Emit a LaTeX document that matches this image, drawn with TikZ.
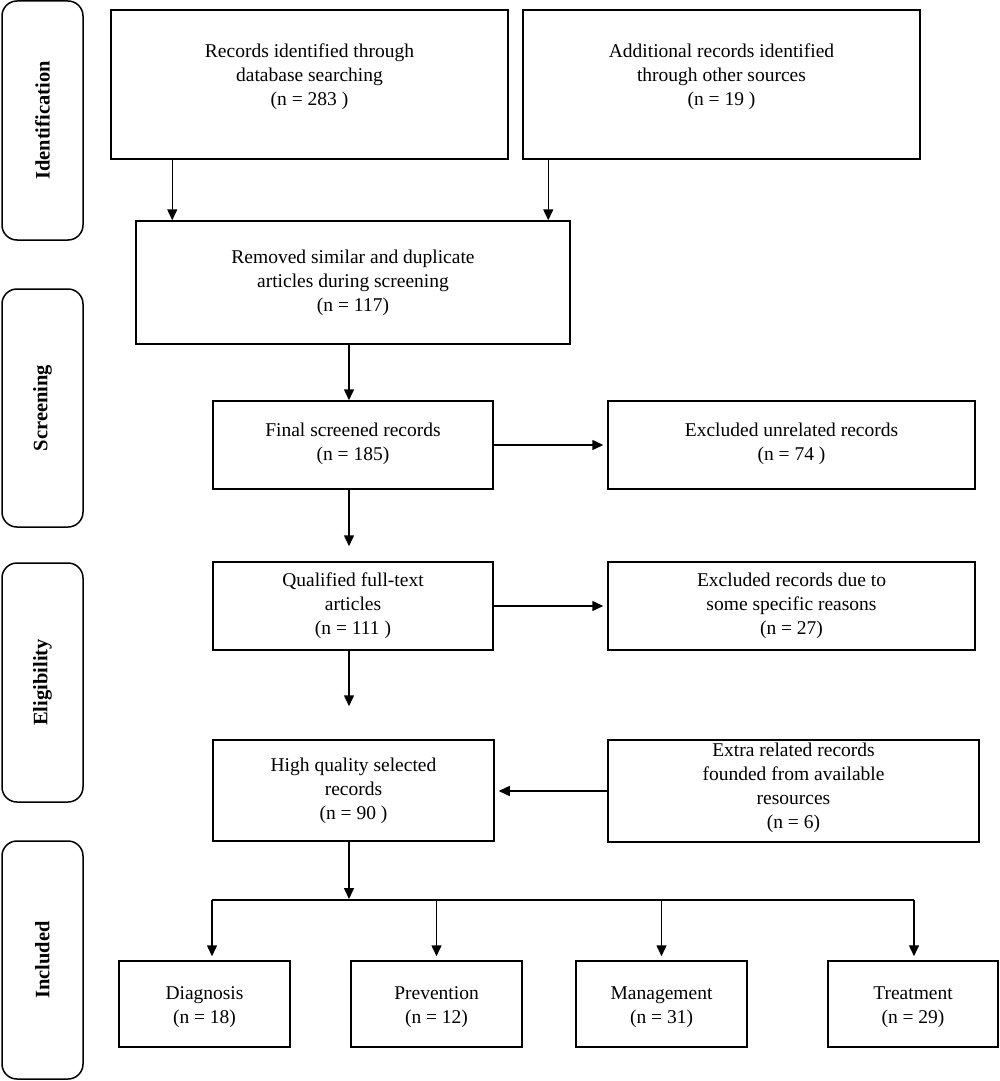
\documentclass[tikz,border=0pt]{standalone}
\usepackage{fontspec}
\setmainfont{Liberation Serif}
\usetikzlibrary{arrows.meta,calc}
\tikzset{
  box/.style={draw=black, line width=1.5pt, rectangle, inner sep=0pt, align=center,
    font=\fontsize{19.5}{24}\selectfont, text=black},
  side/.style={draw=black, line width=1.5pt, rectangle, rounded corners=15pt, rotate=90,
    inner sep=0pt, font=\fontsize{20.5}{24}\selectfont\bfseries, minimum height=81pt},
  arr/.style={line width=1.5pt, -{Triangle[length=11pt,width=10pt]}},
  ln/.style={line width=1.5pt}
}
\begin{document}
\begin{tikzpicture}[x=1pt,y=-1pt]
\useasboundingbox (0,0) rectangle (1000,1081);
% side labels
\node[side, minimum width=239pt] (sid) at (42.5,120.5) {Identification};
\node[side, minimum width=238pt] (sscr) at (42.5,408) {Screening};
\node[side, minimum width=239pt] (selg) at (42.5,682.5) {Eligibility};
\node[side, minimum width=238pt] (sinc) at (42.5,960) {Included};
% main boxes
\node[box, minimum width=397pt, minimum height=149pt] (b1) at (309.5,84.5)
  {Records identified through\\database searching\\(n = 283 )\\[-4pt]\mbox{}};
\node[box, minimum width=397pt, minimum height=149pt] (b2) at (721.5,84.5)
  {Additional records identified\\through other sources\\(n = 19 )\\[-4pt]\mbox{}};
\node[box, minimum width=434pt, minimum height=123pt] (b3) at (353,282.5)
  {Removed similar and duplicate\\articles during screening\\(n = 117)};
\node[box, minimum width=280pt, minimum height=88pt] (b4) at (353,445)
  {\mbox{}\\[-12pt]Final screened records\\(n = 185)};
\node[box, minimum width=367pt, minimum height=88pt] (b5) at (791.5,445)
  {\mbox{}\\[-12pt]Excluded unrelated records\\(n = 74 )};
\node[box, minimum width=280pt, minimum height=88pt] (b6) at (353,606)
  {Qualified full-text\\articles\\(n = 111 )};
\node[box, minimum width=367pt, minimum height=88pt] (b7) at (791.5,606)
  {\mbox{}\\[-10pt]Excluded records due to\\some specific reasons\\(n = 27)};
\node[box, minimum width=281pt, minimum height=101pt] (b8) at (353.5,790.5)
  {High quality selected\\records\\(n = 90 )};
\node[box, minimum width=371pt, minimum height=102pt] (b9) at (793.5,791)
  {\mbox{}\\[-16pt]Extra related records\\founded from available\\resources\\(n = 6)};
% bottom boxes
\node[box, minimum width=171pt, minimum height=86pt] (d1) at (204.5,1004)
  {\mbox{}\\[-4pt]Diagnosis\\(n = 18)};
\node[box, minimum width=171pt, minimum height=86pt] (d2) at (436.5,1004)
  {\mbox{}\\[-4pt]Prevention\\(n = 12)};
\node[box, minimum width=171pt, minimum height=86pt] (d3) at (661.5,1004)
  {\mbox{}\\[-4pt]Management\\(n = 31)};
\node[box, minimum width=170pt, minimum height=86pt] (d4) at (913,1004)
  {\mbox{}\\[-4pt]Treatment\\(n = 29)};
% connectors
\draw[arr] ([xshift=62pt]b1.south west) -- ([xshift=62pt]b1.south west |- b3.north);
\draw[arr] ([xshift=26pt]b2.south west) -- ([xshift=26pt]b2.south west |- b3.north);
\draw[arr] ([xshift=-4pt]b3.south) -- ([xshift=-4pt]b3.south |- b4.north);
\draw[arr] ([xshift=-4pt]b4.south) -- ([xshift=-4pt,yshift=15pt]b4.south |- b6.north);
\draw[arr] ([xshift=-4pt]b6.south) -- ([xshift=-4pt,yshift=33pt]b6.south |- b8.north);
\draw[arr] (b4.east) -- ([xshift=-4pt]b5.west |- b4.east);
\draw[arr] (b6.east) -- ([xshift=-4pt]b7.west |- b6.east);
\draw[arr] (b9.west) -- ([xshift=4pt]b8.east |- b9.west);
\coordinate (br) at (349,900);
\coordinate (bl) at (212,900);
\coordinate (brr) at (914,900);
\draw[arr] ([xshift=-4.5pt]b8.south) -- ([yshift=1pt]br);
\draw[ln] (bl) -- (brr);
\draw[arr] (bl) -- ([yshift=4pt]bl |- d1.north);
\draw[arr] (d2.north |- bl) -- ([yshift=4pt]d2.north);
\draw[arr] (d3.north |- bl) -- ([yshift=4pt]d3.north);
\draw[arr] (brr) -- ([yshift=4pt]brr |- d4.north);
\end{tikzpicture}
\end{document}
